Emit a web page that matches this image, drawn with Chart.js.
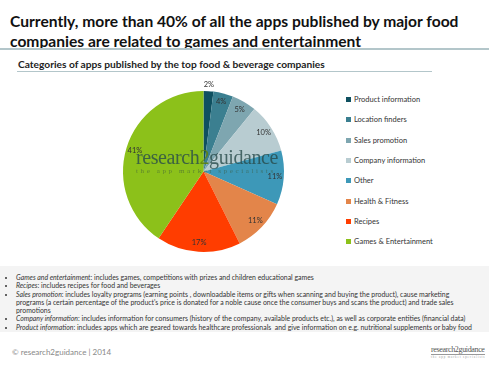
<!DOCTYPE html>
<html>
<head>
<meta charset="utf-8">
<script src="https://cdn.jsdelivr.net/npm/chart.js"></script>
<style>
  body { margin: 0; width: 489px; height: 366px; background: #fff; font-family: Lato, "Open Sans", sans-serif; position: relative; overflow: hidden; }
  #title { position: absolute; left: 10px; top: 11px; font-size: 15.6px; font-weight: 700; line-height: 20px; color: #111; white-space: nowrap; }
  #topline { position: absolute; left: 0; top: 48px; width: 489px; height: 2px; background: #b3c6ca; }
  #subtitle { position: absolute; left: 18px; top: 58px; font-size: 10.2px; font-weight: 700; color: #222; white-space: nowrap; }
  #subline { position: absolute; left: 17px; top: 71px; width: 415px; height: 1px; background: #b3c6ca; }
  #wrap { position: absolute; left: 108px; top: 76px; width: 191px; height: 191px; }
  #legend { position: absolute; left: 346px; top: 94px; font-size: 7.5px; color: #333; }
  #legend div { height: 20.33px; line-height: 11px; white-space: nowrap; }
  #legend span { display: inline-block; width: 5px; height: 5px; margin-right: 3px; vertical-align: 0px; }
  #mark { position: absolute; left: 136px; top: 148px; font-family: "Liberation Serif", serif; color: rgba(40,75,75,0.8); pointer-events: none; white-space: nowrap; }
  #mark .big { font-size: 20px; letter-spacing: -0.4px; line-height: 19px; }
  #mark .big b { font-weight: 400; color: rgba(95,130,15,0.9); }
  #mark .small { font-size: 7px; letter-spacing: 2.6px; line-height: 9px; color: rgba(60,90,60,0.6); }
  #notes { position: absolute; left: 0; top: 266px; width: 489px; height: 66px; background: #f4f4f4; font-size: 6.9px; color: #333; line-height: 8.3px; }
  #notes ul { margin: 7px 0 0 0; padding-left: 16px; }
  #notes li { list-style: disc; white-space: nowrap; }
  #foot { position: absolute; left: 12px; top: 347px; font-size: 8px; color: #888; }
  #logo { position: absolute; left: 431px; top: 346px; font-family: "Liberation Serif", serif; color: #555; white-space: nowrap; }
  #logo .big { font-size: 8px; letter-spacing: -0.35px; line-height: 8px; border-bottom: 1px solid #999; }
  #logo .small { font-size: 3px; letter-spacing: 0.9px; line-height: 4px; color: #999; }
</style>
</head>
<body>
<div id="title">Currently, more than 40% of all the apps published by major food<br>companies are related to games and entertainment</div>
<div id="topline"></div>
<div id="subtitle">Categories of apps published by the top food &amp; beverage companies</div>
<div id="subline"></div>
<div id="wrap"><canvas id="chart"></canvas></div>
<div id="mark"><div class="big">research<b>2</b>guidance</div><div class="small">the app market specialists</div></div>
<div id="legend"></div>
<div id="notes"><ul>
<li><i>Games and entertainment</i>: includes games, competitions with prizes and children educational games</li>
<li><i>Recipes</i>: includes recipes for food and beverages</li>
<li><i>Sales promotion</i>: includes loyalty programs (earning points , downloadable items or gifts when scanning and buying the product), cause marketing<br>programs (a certain percentage of the product's price is donated for a noble cause once the consumer buys and scans the product) and trade sales<br>promotions</li>
<li><i>Company information</i>: includes information for consumers (history of the company, available products etc.), as well as corporate entities (financial data)</li>
<li><i>Product information</i>: includes apps which are geared towards healthcare professionals&nbsp; and give information on e.g. nutritional supplements or baby food</li>
</ul></div>
<div id="foot">© research2guidance | 2014</div>
<div id="logo"><div class="big">research2guidance</div><div class="small">the app market specialists</div></div>
<script>
const categories = ['Product information', 'Location finders', 'Sales promotion', 'Company information', 'Other', 'Health & Fitness', 'Recipes', 'Games & Entertainment'];
const shares = [2, 4, 5, 10, 11, 11, 17, 41];
const colors = ['#0f5060', '#3b7f90', '#7ea6b0', '#b8ccd1', '#3d98b8', '#e3854a', '#ff3d00', '#8cc11a'];

// percentage labels on slices
const sliceLabels = {
    id: 'sliceLabels',
    afterDatasetsDraw(chart) {
        const ctx = chart.ctx;
        const meta = chart.getDatasetMeta(0);
        ctx.save();
        ctx.font = '7.5px Lato, sans-serif';
        ctx.fillStyle = '#333';
        ctx.textAlign = 'center';
        ctx.textBaseline = 'middle';
        meta.data.forEach(function(arc, i) {
            const p = arc.getProps(['x', 'y', 'startAngle', 'endAngle', 'outerRadius']);
            const mid = (p.startAngle + p.endAngle) / 2;
            const k = shares[i] < 3 ? 1.08 : 0.89;
            ctx.fillText(shares[i] + '%', p.x + Math.cos(mid) * p.outerRadius * k, p.y + Math.sin(mid) * p.outerRadius * k);
        });
        ctx.restore();
    }
};

const chart = new Chart(document.getElementById('chart').getContext('2d'), {
    type: 'pie',
    data: {
        labels: categories,
        datasets: [{
            data: shares,
            backgroundColor: colors,
            borderWidth: 0
        }]
    },
    options: {
        responsive: true,
        maintainAspectRatio: false,
        animation: false,
        layout: { padding: 15 },
        plugins: {
            legend: { display: false },
            tooltip: { enabled: false }
        }
    },
    plugins: [sliceLabels]
});

const legend = document.getElementById('legend');
chart.data.labels.forEach(function(label, i) {
    const row = document.createElement('div');
    const box = document.createElement('span');
    box.style.background = chart.data.datasets[0].backgroundColor[i];
    row.appendChild(box);
    row.appendChild(document.createTextNode(label));
    legend.appendChild(row);
});
</script>
</body>
</html>
